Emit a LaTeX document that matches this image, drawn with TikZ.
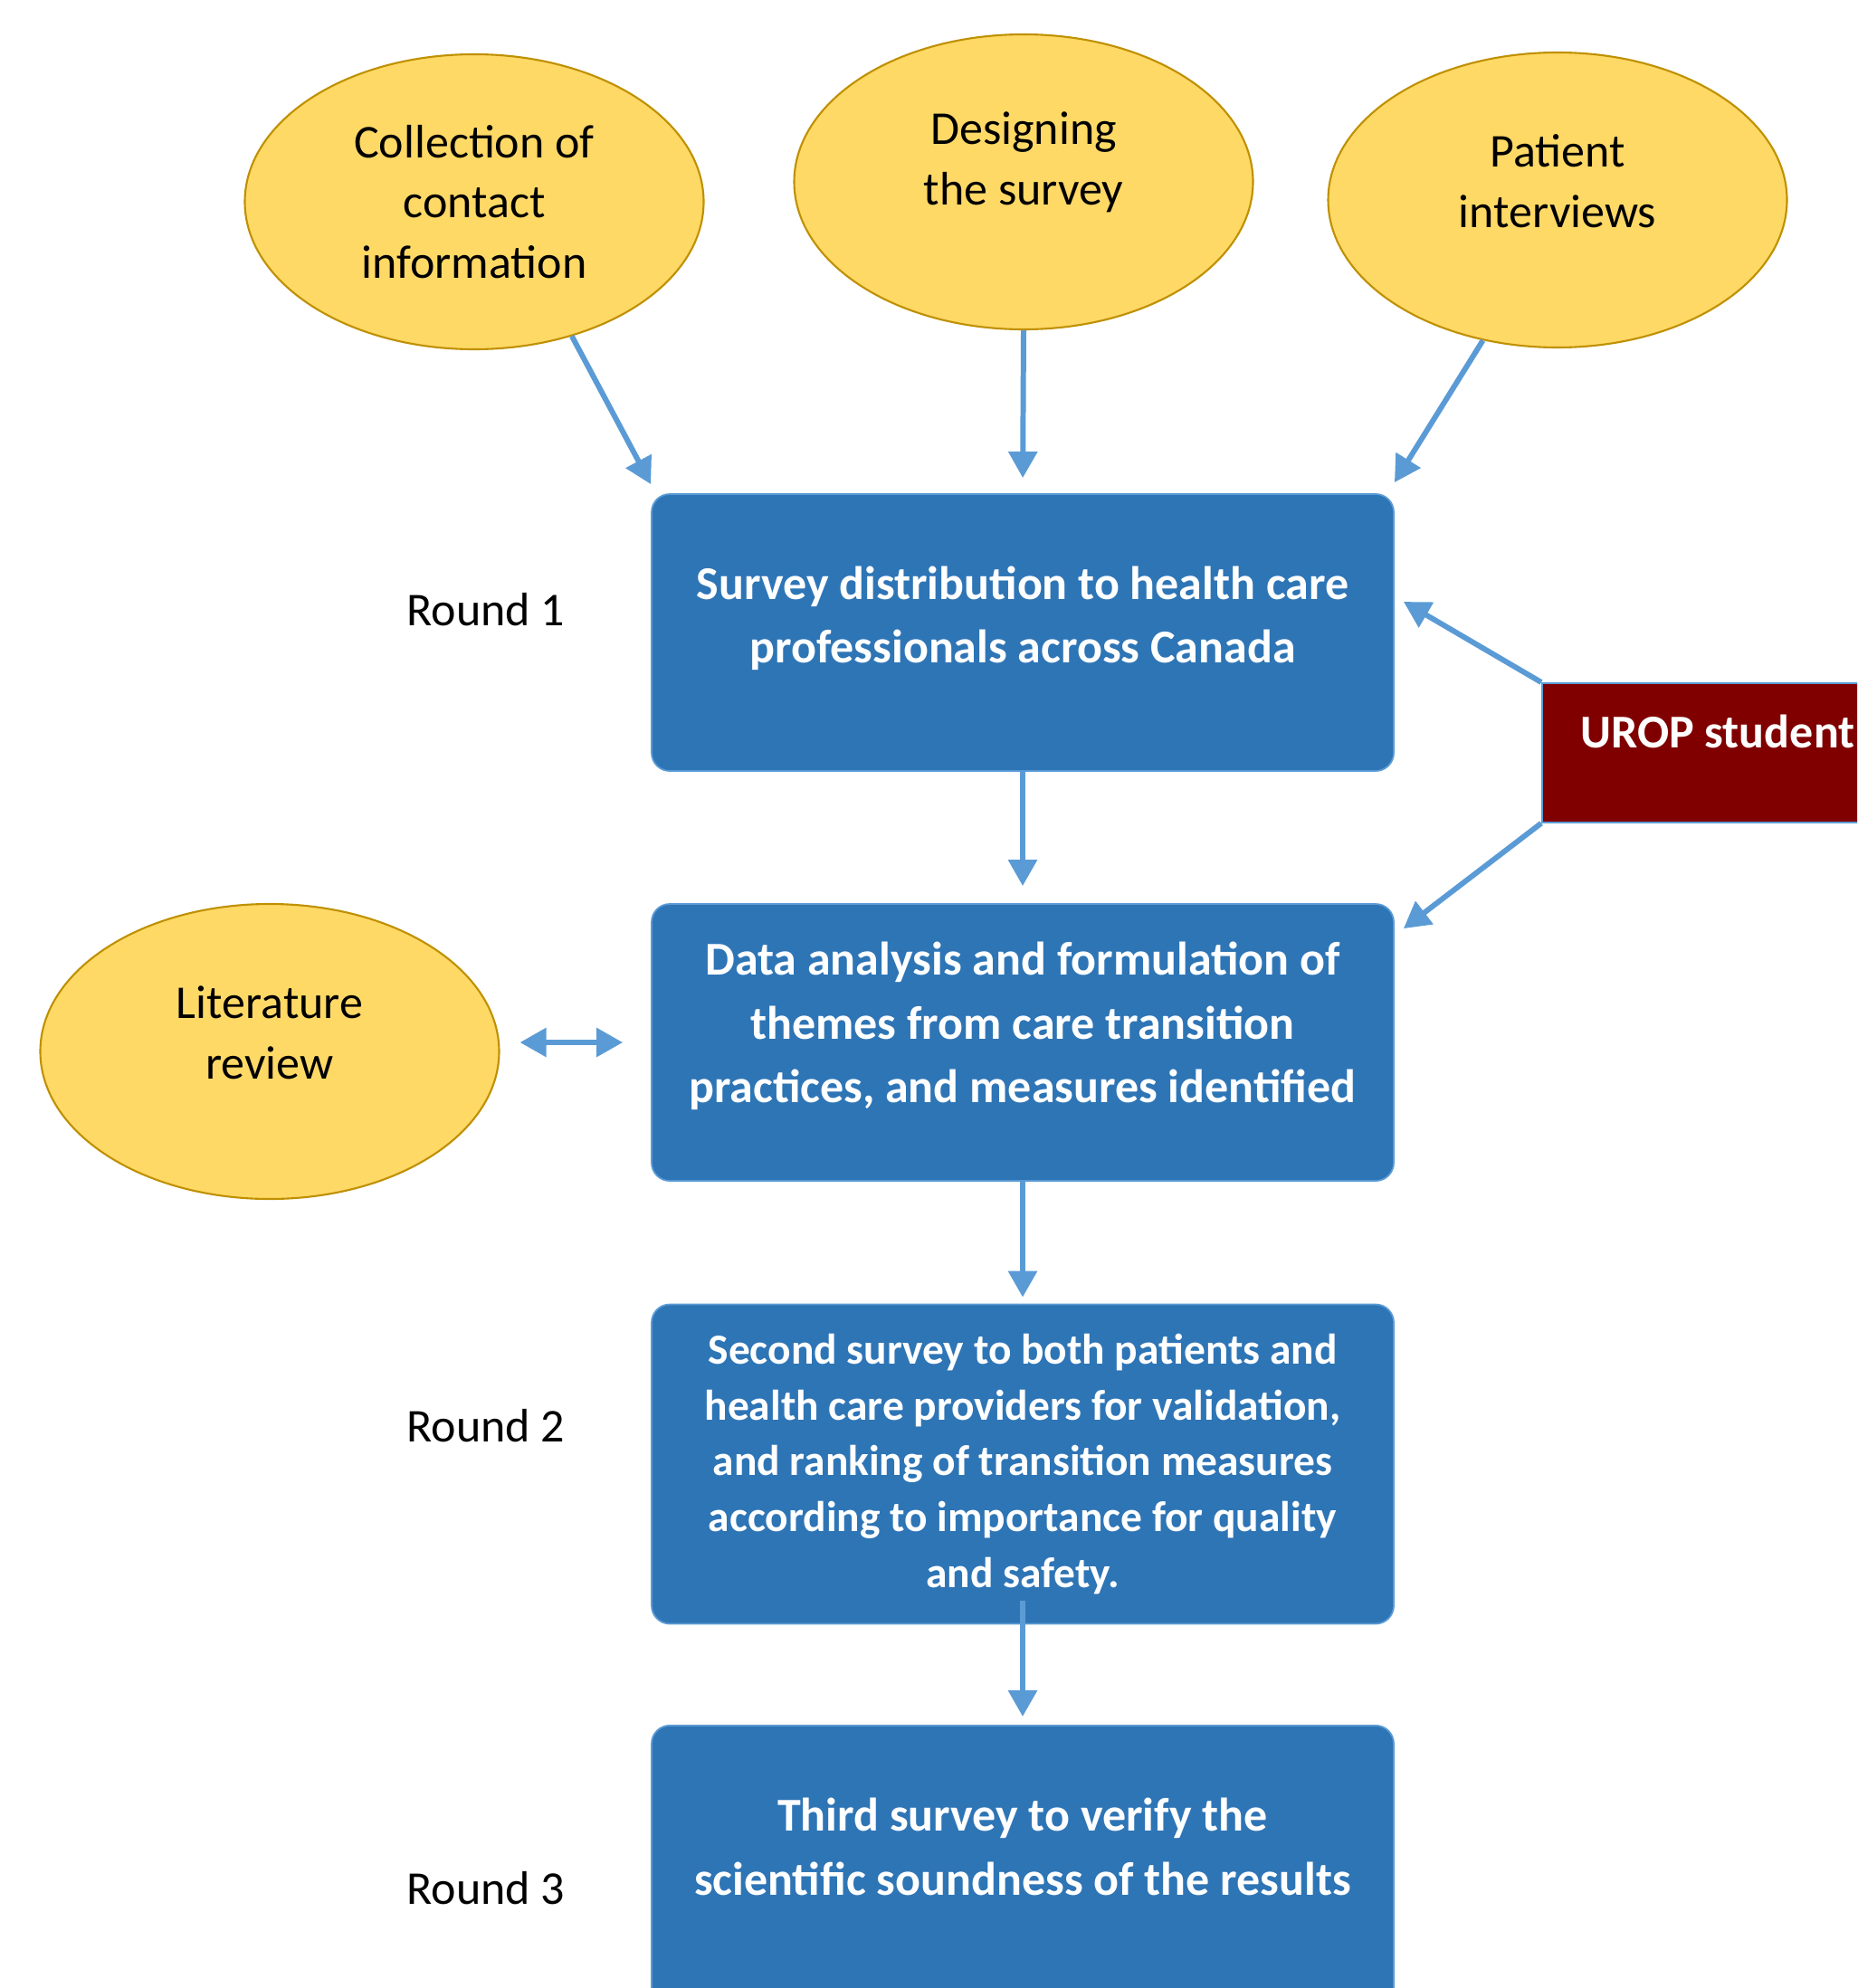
\documentclass[tikz,border=0pt]{standalone}
\usepackage{fontspec}
\setmainfont{Carlito}
\usetikzlibrary{shapes.geometric,arrows.meta}

\definecolor{boxblue}{HTML}{2E75B6}
\definecolor{lineblue}{HTML}{5B9BD5}
\definecolor{gold}{HTML}{FFD966}
\definecolor{golddark}{HTML}{BF9000}
\definecolor{maroon}{HTML}{800000}

\tikzset{
  bubble/.style={ellipse, fill=gold, draw=golddark, line width=0.6pt,
    minimum width=5.07cm, minimum height=3.26cm, inner sep=0pt, align=center,
    font=\fontsize{14.8pt}{19pt}\selectfont},
  stage/.style={rectangle, rounded corners=0.2cm, fill=boxblue, draw=lineblue,
    line width=0.5pt, minimum width=8.2cm, text=white, align=center,
    font=\bfseries\fontsize{14.8pt}{20pt}\selectfont},
  roundlbl/.style={font=\fontsize{14.8pt}{19pt}\selectfont},
  link/.style={->, draw=lineblue, line width=1.7pt},
  >={Triangle[length=0.29cm,width=0.31cm]}
}

\begin{document}
\begin{tikzpicture}
  \useasboundingbox (0,0) rectangle (20.52,-21.97);
  \clip (0,0) rectangle (20.52,-21.97);

  \node[bubble] (coll) at (5.24,-2.23) {Collection of\\contact\\information};
  \node[bubble] (design) at (11.31,-2.01) {Designing\\the survey\\[-0.15cm]\mbox{}};
  \node[bubble] (patient) at (17.21,-2.21) {Patient\\interviews\\[-0.25cm]\mbox{}};
  \node[bubble] (lit) at (2.98,-11.62) {Literature\\review\\[-0.25cm]\mbox{}};

  \node[stage, minimum height=3.06cm] (box1) at (11.30,-6.99)
    {Survey distribution to health care\\professionals across Canada\\[-0.30cm]\mbox{}};
  \node[stage, minimum height=3.06cm] (box2) at (11.30,-11.52)
    {Data analysis and formulation of\\themes from care transition\\practices, and measures identified\\[-0.26cm]\mbox{}};
  \node[stage, minimum height=3.53cm, font=\bfseries\fontsize{13.5pt}{17.6pt}\selectfont] (box3) at (11.30,-16.18)
    {Second survey to both patients and\\health care providers for validation,\\and ranking of transition measures\\according to importance for quality\\and safety.};
  \node[stage, minimum height=3.2cm, anchor=north] (box4) at (11.30,-19.06)
    {Third survey to verify the\\scientific soundness of the results\\[-0.18cm]\mbox{}};

  \node[roundlbl] (r1) at (5.37,-6.74) {Round 1};
  \node[roundlbl] (r2) at (5.37,-15.76) {Round 2};
  \node[roundlbl] (r3) at (5.37,-20.87) {Round 3};

  \node[rectangle, fill=maroon, draw=lineblue, line width=0.5pt, anchor=north west,
    minimum width=3.88cm, minimum height=1.54cm, align=center, text=white,
    font=\bfseries\fontsize{14.8pt}{20pt}\selectfont]
    (urop) at (17.03,-7.54) {UROP student\\[-0.24cm]\mbox{}};

  \draw[link] (coll.-54) -- ([yshift=0.10cm]box1.north west);
  \draw[link, shorten >=0.17cm] (design.south) -- (box1.north);
  \draw[link] (patient.-118) -- ([yshift=0.12cm]box1.north east);
  \draw[link, shorten >=0.19cm] (box1.south) -- (box2.north);
  \draw[link] (urop.north west) -- ([shift={(0.1,0.34)}]box1.east);
  \draw[link] (urop.south west) -- ([shift={(0.1,-0.28)}]box2.north east);
  \draw[link, <->, shorten <=0.22cm, shorten >=0.31cm] (lit.east |- box2.west) -- (box2.west);
  \draw[link, shorten >=0.07cm] (box2.south) -- (box3.north);
  \draw[link, shorten >=0.09cm] ([yshift=0.26cm]box3.south) -- (box4.north);
\end{tikzpicture}
\end{document}
